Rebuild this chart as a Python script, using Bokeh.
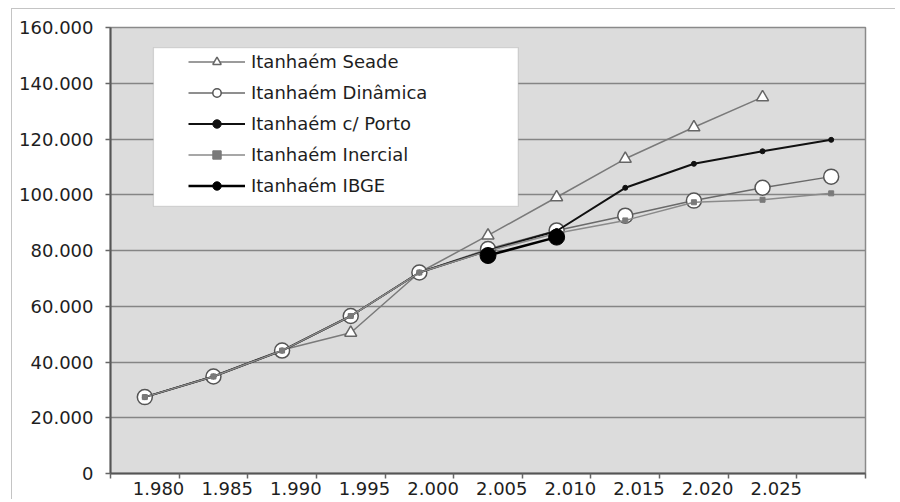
from bokeh.plotting import figure
from bokeh.models import FixedTicker, Legend, LegendItem, BoxAnnotation, Range1d
from bokeh.embed import file_html
from bokeh.resources import INLINE

# ---- data ----
years = [1980, 1985, 1990, 1995, 2000, 2005, 2010, 2015, 2020, 2025, 2030]
seade_years = [1980, 1985, 1990, 1995, 2000, 2005, 2010, 2015, 2020, 2025]
seade = [27400, 35000, 44300, 50500, 72100, 85400, 99100, 112900, 124200, 135000]
dinamica = [27400, 34800, 44100, 56500, 72100, 80500, 87200, 92500, 97900, 102500, 106500]
porto = [27400, 34800, 44100, 56500, 72100, 80000, 87000, 102500, 111100, 115600, 119700]
inercial = [27400, 34800, 44100, 56500, 72100, 79800, 86200, 90800, 97300, 98200, 100500]
ibge_years = [2005, 2010]
ibge = [78200, 84800]

x_tick_years = [1980, 1985, 1990, 1995, 2000, 2005, 2010, 2015, 2020, 2025]
x_tick_labels = ["1.980", "1.985", "1.990", "1.995", "2.000", "2.005", "2.010", "2.015", "2.020", "2.025"]
y_ticks = [0, 20000, 40000, 60000, 80000, 100000, 120000, 140000, 160000]
y_tick_labels = ["0", "20.000", "40.000", "60.000", "80.000", "100.000", "120.000", "140.000", "160.000"]

FONT = "DejaVu Sans"
TXT = "#1e1e1e"

half = 2.5  # half a category (5 years)
p = figure(
    frame_width=755, frame_height=446,
    min_border_left=98, min_border_top=18, min_border_right=30, min_border_bottom=26,
    x_range=Range1d(years[0] - half, years[-1] + half),
    y_range=Range1d(y_ticks[0], y_ticks[-1]),
    output_backend="svg", toolbar_location=None,
)
p.margin = (8, 0, 0, 11)
p.styles = {"border-top": "1px solid #c4c4c4", "border-left": "1px solid #c4c4c4"}
p.background_fill_color = "#dcdcdc"
p.border_fill_color = "white"
p.outline_line_color = "#8a8a8a"
p.outline_line_width = 1.5

# x axis: labels slightly right of category centre, ticks between categories
label_pos = [y + 1 for y in x_tick_years]
p.xaxis.ticker = FixedTicker(ticks=label_pos,
                             minor_ticks=[y - half for y in years] + [years[-1] + half])
p.xaxis.major_label_overrides = {lp: lab for lp, lab in zip(label_pos, x_tick_labels)}
p.xaxis.major_tick_in = 0
p.xaxis.major_tick_out = 0
p.xaxis.minor_tick_in = 0
p.xaxis.minor_tick_out = 5
p.xaxis.minor_tick_line_color = "#666666"
p.xaxis.minor_tick_line_width = 1.5
p.xaxis.major_label_standoff = 3

p.yaxis.ticker = FixedTicker(ticks=y_ticks)
p.yaxis.major_label_overrides = {t: lab for t, lab in zip(y_ticks, y_tick_labels)}
p.yaxis.major_tick_in = 0
p.yaxis.major_tick_out = 5
p.yaxis.major_tick_line_color = "#666666"
p.yaxis.major_tick_line_width = 1.5
p.yaxis.minor_tick_line_color = None
p.yaxis.major_label_standoff = 12

for ax in (p.xaxis, p.yaxis):
    ax.axis_line_color = "#555555"
    ax.axis_line_width = 2
    ax.major_label_text_font = FONT
    ax.major_label_text_font_size = "18px"
    ax.major_label_text_color = TXT

p.xgrid.visible = False
p.ygrid.grid_line_color = "#858585"
p.ygrid.grid_line_width = 1.5

# ---- series ----
l1 = p.line(seade_years, seade, line_color="#7a7a7a", line_width=1.5)
s1 = p.scatter(seade_years, seade, marker="triangle", size=12, fill_color="white",
               line_color="#666666", line_width=1.5)
l2 = p.line(years, dinamica, line_color="#6a6a6a", line_width=1.5)
s2 = p.scatter(years, dinamica, marker="circle", size=15, fill_color="white",
               line_color="#555555", line_width=1.5)
l3 = p.line(years, porto, line_color="#111111", line_width=2)
s3 = p.scatter(years, porto, marker="circle", size=5, fill_color="#111111", line_color="#111111")
l4 = p.line(years, inercial, line_color="#8a8a8a", line_width=1.5)
s4 = p.scatter(years, inercial, marker="square", size=5, fill_color="#7a7a7a", line_color="#7a7a7a")
l5 = p.line(ibge_years, ibge, line_color="black", line_width=2.5)
s5 = p.scatter(ibge_years, ibge, marker="circle", size=16, fill_color="black", line_color="black")

# legend box (white panel)
box = BoxAnnotation(left=1980.63, right=2007.2, bottom=95800, top=152800,
                    fill_color="white", fill_alpha=1.0, line_color="#8a8a8a", line_width=1.2)
p.add_layout(box)

legend = Legend(items=[
    LegendItem(label="Itanhaém Seade", renderers=[l1, s1]),
    LegendItem(label="Itanhaém Dinâmica", renderers=[l2, s2]),
    LegendItem(label="Itanhaém c/ Porto", renderers=[l3, s3]),
    LegendItem(label="Itanhaém Inercial", renderers=[l4, s4]),
    LegendItem(label="Itanhaém IBGE", renderers=[l5, s5]),
], location=(78, 277), padding=0, margin=0, spacing=10, glyph_width=57, glyph_height=21,
    label_height=21, label_standoff=6, label_text_font=FONT, label_text_font_size="18px",
    label_text_color=TXT, background_fill_alpha=0, border_line_alpha=0)
p.add_layout(legend)

open("out.html", "w").write(file_html(p, INLINE))
